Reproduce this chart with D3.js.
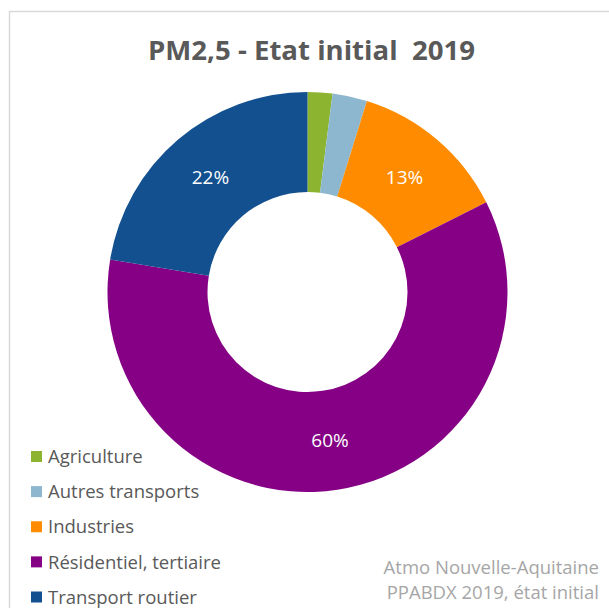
<!DOCTYPE html>
<html>
<head>
<meta charset="utf-8">
<script src="https://cdn.jsdelivr.net/npm/d3@7"></script>
<style>
  html, body { margin: 0; padding: 0; background: #ffffff; }
  svg { display: block; }
</style>
</head>
<body>
<svg id="chart" width="609" height="608"></svg>
<script>
// Sources of PM2.5 emissions, initial state 2019 (shares in %)
const categories = ["Agriculture", "Autres transports", "Industries", "Résidentiel, tertiaire", "Transport routier"];
const shares = [2.0, 2.8, 12.8, 60.0, 22.4];
const colors = ["#8cb431", "#8db7ce", "#ff8c00", "#850085", "#12508f"];
const titleText = "PM2,5 - Etat initial  2019";
const sourceLines = ["Atmo Nouvelle-Aquitaine", "PPABDX 2019, état initial"];

const svg = d3.select("#chart");
const font = "'Open Sans', 'Noto Sans', sans-serif";

// chart frame
svg.append("rect")
  .attr("x", 9.5).attr("y", 11.5)
  .attr("width", 640).attr("height", 640)
  .attr("fill", "#ffffff")
  .attr("stroke", "#d9d9d9")
  .attr("stroke-width", 1.5);

// title
const title = svg.append("text")
  .attr("x", 311.5).attr("y", 60)
  .attr("text-anchor", "middle")
  .attr("font-family", font)
  .attr("font-weight", 700)
  .attr("font-size", 27)
  .attr("fill", "#595959")
  .attr("xml:space", "preserve")
  .style("white-space", "pre")
  .text(titleText);
const tw = title.node().getComputedTextLength();
title.attr("font-size", 27 * 327 / tw);

// donut
const cx = 307.5, cy = 292, rOuter = 200, rInner = 100;
const data = categories.map((c, i) => ({ name: c, value: shares[i], color: colors[i] }));
const pie = d3.pie().value(d => d.value).sort(null);
const arc = d3.arc().innerRadius(rInner).outerRadius(rOuter);
const labelArc = d3.arc().innerRadius((rInner + rOuter) / 2).outerRadius((rInner + rOuter) / 2);
const color = d3.scaleOrdinal().domain(categories).range(colors);

const g = svg.append("g").attr("transform", `translate(${cx},${cy})`);
const arcs = pie(data);
g.selectAll("path.slice")
  .data(arcs)
  .join("path")
  .attr("class", "slice")
  .attr("d", arc)
  .attr("fill", d => color(d.data.name));

// percentage labels on the larger slices
g.selectAll("text.pct")
  .data(arcs.filter(d => d.data.value >= 5))
  .join("text")
  .attr("class", "pct")
  .attr("transform", d => `translate(${labelArc.centroid(d)})`)
  .attr("text-anchor", "middle")
  .attr("dy", "0.36em")
  .attr("font-family", font)
  .attr("font-size", 19)
  .attr("fill", "#ffffff")
  .text(d => Math.round(d.data.value) + "%");

// legend
const legendY = d3.scalePoint().domain(categories).range([456.5, 597]);
const legend = svg.append("g");
const item = legend.selectAll("g.item")
  .data(categories)
  .join("g")
  .attr("class", "item")
  .attr("transform", d => `translate(31,${legendY(d)})`);
item.append("rect")
  .attr("x", 0).attr("y", -5.5)
  .attr("width", 11).attr("height", 11)
  .attr("fill", d => color(d));
item.append("text")
  .attr("x", 17).attr("y", 0)
  .attr("dy", "0.36em")
  .attr("font-family", font)
  .attr("font-size", 18.5)
  .attr("fill", "#595959")
  .text(d => d);

// source note
svg.append("g").selectAll("text")
  .data(sourceLines)
  .join("text")
  .attr("x", 599)
  .attr("y", (d, i) => 567 + i * 25.5)
  .attr("dy", "0.36em")
  .attr("text-anchor", "end")
  .attr("font-family", font)
  .attr("font-size", 18.5)
  .attr("fill", "#a6a6a6")
  .text(d => d);
</script>
</body>
</html>
